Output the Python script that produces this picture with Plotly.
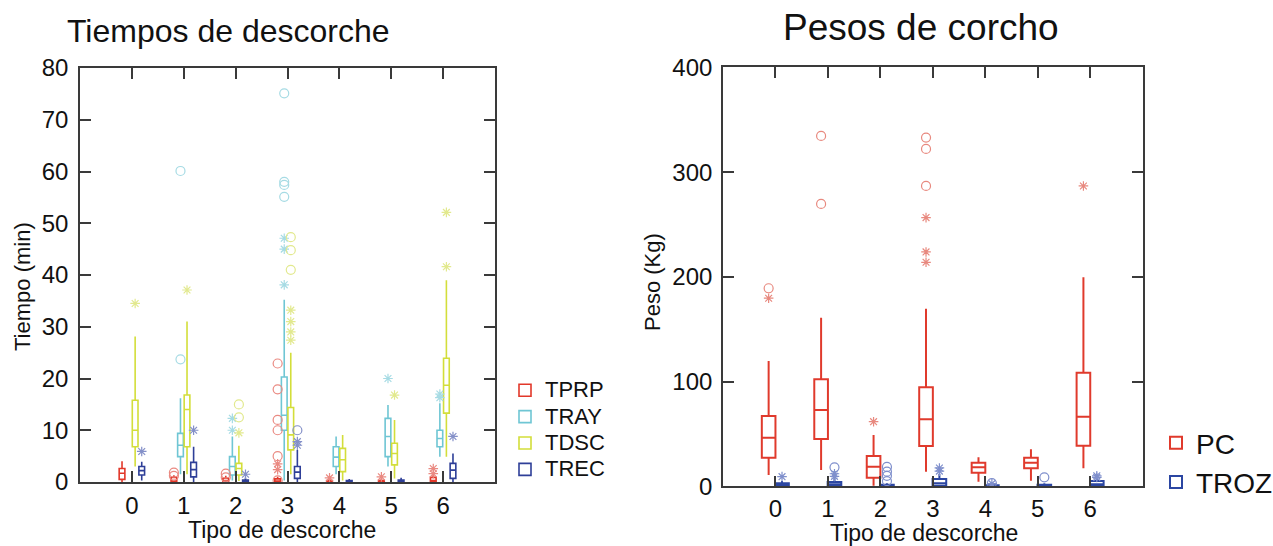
import plotly.graph_objects as go

# ---------------- data: Tiempos de descorche ----------------
groups = [0, 1, 2, 3, 4, 5, 6]
tick_labels = ["0", "1", "2", "3", "4", "5", "6"]

TPRP_groups = [0, 1, 2, 3, 4, 5, 6]
TPRP_q1 = [0.5, 0.0, 0.0, 0.0, 0.0, 0.0, 0.0]
TPRP_med = [1.7, 0.3, 0.2, 0.1, 0.1, 0.1, 0.3]
TPRP_q3 = [2.6, 0.9, 0.7, 0.6, 0.3, 0.3, 0.9]
TPRP_lo = [0.0, 0.0, 0.0, 0.0, 0.0, 0.0, 0.0]
TPRP_hi = [4.0, 1.3, 1.2, 1.0, 0.6, 0.6, 1.5]
TPRP_circ = {1: [1.8, 1.2], 2: [1.6, 0.9], 3: [22.9, 17.9, 12.0, 10.0, 5.0, 0.3]}
TPRP_ast = {3: [3.5, 2.4], 4: [0.8], 5: [1.0], 6: [2.6, 1.6]}

TRAY_groups = [1, 2, 3, 4, 5, 6]
TRAY_q1 = [4.9, 1.35, 10.0, 3.0, 4.9, 6.8]
TRAY_med = [7.1, 3.0, 12.9, 4.8, 8.8, 8.4]
TRAY_q3 = [9.4, 4.9, 20.3, 6.8, 12.3, 10.0]
TRAY_lo = [1.5, 0.3, 0.3, 1.5, 3.0, 4.9]
TRAY_hi = [16.2, 8.8, 35.2, 8.8, 14.9, 15.2]
TRAY_circ = {1: [60.1, 23.7], 3: [75.1, 58.0, 57.4, 55.1]}
TRAY_ast = {2: [12.3, 10.0], 3: [47.1, 45.0, 38.1], 5: [20.0], 6: [17.0, 16.3]}

TDSC_groups = [0, 1, 2, 3, 4, 5, 6]
TDSC_q1 = [6.8, 6.8, 1.35, 6.2, 2.0, 3.3, 13.3]
TDSC_med = [10.0, 14.0, 2.6, 9.1, 4.3, 5.5, 18.7]
TDSC_q3 = [15.8, 16.8, 3.6, 14.4, 6.5, 7.5, 23.9]
TDSC_lo = [3.0, 1.5, 0.2, 1.5, 0.3, 0.7, 4.9]
TDSC_hi = [28.1, 31.0, 7.0, 25.0, 9.1, 12.0, 39.0]
TDSC_circ = {2: [15.0, 12.5], 3: [47.3, 44.8, 41.0]}
TDSC_ast = {0: [34.5], 1: [37.1], 2: [9.5], 3: [33.2, 31.0, 29.0, 27.4], 5: [16.8], 6: [52.1, 41.6]}

TREC_groups = [0, 1, 2, 3, 4, 5, 6]
TREC_q1 = [1.35, 1.0, 0.0, 0.7, 0.0, 0.0, 0.7]
TREC_med = [2.2, 2.4, 0.1, 1.9, 0.1, 0.1, 2.3]
TREC_q3 = [3.0, 3.8, 0.4, 3.0, 0.3, 0.4, 3.6]
TREC_lo = [0.3, 0.0, 0.0, 0.0, 0.0, 0.0, 0.0]
TREC_hi = [3.9, 6.8, 0.8, 6.2, 0.6, 0.8, 5.5]
TREC_circ = {3: [10.0]}
TREC_ast = {0: [5.9], 1: [10.0], 2: [1.5], 3: [7.8, 7.1], 6: [8.8]}

# ---------------- data: Pesos de corcho ----------------
PC_groups = [0, 1, 2, 3, 4, 5, 6]
PC_q1 = [27.3, 45.2, 8.2, 38.5, 13.0, 17.2, 38.8]
PC_med = [46.4, 72.9, 18.7, 64.0, 18.1, 22.6, 66.5]
PC_q3 = [67.1, 102.2, 28.9, 94.6, 22.6, 27.3, 108.5]
PC_lo = [10.8, 15.6, 0.5, 14.0, 4.4, 5.3, 17.2]
PC_hi = [119.7, 161.0, 49.0, 169.6, 27.7, 35.3, 199.6]
PC_circ = {0: [189.1], 1: [334.6, 269.6], 3: [333.0, 322.2, 286.8]}
PC_ast = {0: [179.6], 2: [61.7], 3: [256.6, 223.8, 213.9], 6: [286.8]}

TROZ_groups = [0, 1, 2, 3, 4, 5, 6]
TROZ_q1 = [0.0, 0.0, 0.0, 0.5, 0.0, 0.0, 0.0]
TROZ_med = [1.5, 2.0, 0.5, 3.0, 0.3, 0.5, 2.0]
TROZ_q3 = [3.0, 4.0, 1.5, 7.0, 1.0, 1.5, 5.0]
TROZ_lo = [0.0, 0.0, 0.0, 0.0, 0.0, 0.0, 0.0]
TROZ_hi = [5.0, 8.0, 3.0, 12.0, 2.0, 3.0, 8.0]
TROZ_circ = {1: [18.1], 2: [18.5, 14.0, 10.0, 5.0], 4: [3.0], 5: [8.6]}
TROZ_ast = {0: [9.2], 1: [12.0, 9.5], 3: [17.5, 14.5], 4: [2.5], 6: [10.0, 8.5]}

FONT = "Arial, Liberation Sans, sans-serif"

fig = go.Figure()


def add_series(name, grp, q1, med, q3, lo, hi, circ, ast, off, width, color, ocolor,
               xa, ya, legend, lw, label_size):
    xs = [g + off for g in grp]
    fig.add_trace(go.Box(
        name=f'<span style="font-size:{label_size}px">{name}</span>',
        x=xs, q1=q1, median=med, q3=q3, lowerfence=lo, upperfence=hi,
        width=width, whiskerwidth=0, line=dict(color=color, width=lw),
        fillcolor="rgba(255,255,255,0)", boxpoints=False, xaxis=xa, yaxis=ya,
        legend=legend, hoverinfo="skip"))
    cx, cy = [], []
    for g, vals in circ.items():
        for v in vals:
            cx.append(g + off)
            cy.append(v)
    ax_, ay_ = [], []
    for g, vals in ast.items():
        for v in vals:
            ax_.append(g + off)
            ay_.append(v)
    fig.add_trace(go.Scatter(x=cx, y=cy, mode="markers", showlegend=False,
                             marker=dict(symbol="circle-open", size=9, color=ocolor,
                                         line=dict(width=1.2, color=ocolor)),
                             xaxis=xa, yaxis=ya, hoverinfo="skip"))
    fig.add_trace(go.Scatter(x=ax_, y=ay_, mode="markers", showlegend=False,
                             marker=dict(symbol="asterisk-open", size=8, color=ocolor,
                                         line=dict(width=1.2, color=ocolor)),
                             xaxis=xa, yaxis=ya, hoverinfo="skip"))


W1 = 0.11
add_series("TPRP", TPRP_groups, TPRP_q1, TPRP_med, TPRP_q3, TPRP_lo, TPRP_hi, TPRP_circ, TPRP_ast,
           -0.19, W1, "#e2382a", "#ea8a82", "x", "y", "legend", 1.6, 22)
add_series("TRAY", TRAY_groups, TRAY_q1, TRAY_med, TRAY_q3, TRAY_lo, TRAY_hi, TRAY_circ, TRAY_ast,
           -0.063, W1, "#6fc6d4", "#a6dbe4", "x", "y", "legend", 1.6, 22)
add_series("TDSC", TDSC_groups, TDSC_q1, TDSC_med, TDSC_q3, TDSC_lo, TDSC_hi, TDSC_circ, TDSC_ast,
           0.063, W1, "#d3de3a", "#e2e98e", "x", "y", "legend", 1.6, 22)
add_series("TREC", TREC_groups, TREC_q1, TREC_med, TREC_q3, TREC_lo, TREC_hi, TREC_circ, TREC_ast,
           0.19, W1, "#2e3f98", "#8490c8", "x", "y", "legend", 1.6, 22)

W2 = 0.26
add_series("PC", PC_groups, PC_q1, PC_med, PC_q3, PC_lo, PC_hi, PC_circ, PC_ast,
           -0.13, W2, "#e03a2c", "#e8897f", "x2", "y2", "legend2", 2.0, 28)
add_series("TROZ", TROZ_groups, TROZ_q1, TROZ_med, TROZ_q3, TROZ_lo, TROZ_hi, TROZ_circ, TROZ_ast,
           0.125, W2, "#2b46a2", "#7f8fcc", "x2", "y2", "legend2", 2.0, 28)

axis_common = dict(showline=True, linecolor="#3a3a3a", linewidth=1.6, mirror="ticks",
                   ticks="inside", ticklen=11, tickwidth=1.6, tickcolor="#3a3a3a",
                   showgrid=False, zeroline=False, automargin=False,
                   tickfont=dict(family=FONT, size=24, color="#111111"))

W, H = 1273, 546
fig.update_layout(
    width=W, height=H, margin=dict(l=0, r=0, t=0, b=0, autoexpand=False),
    paper_bgcolor="white", plot_bgcolor="white", boxmode="overlay",
    font=dict(family=FONT, color="#111111"),
    xaxis=dict(domain=[80 / W, 495 / W], range=[-1, 7], tickvals=groups, ticktext=tick_labels,
               anchor="y", ticklabelstandoff=1, **axis_common),
    yaxis=dict(domain=[(H - 482) / H, (H - 68) / H], range=[0, 80], dtick=10,
               anchor="x", ticklabelstandoff=5, **axis_common),
    xaxis2=dict(domain=[723 / W, 1142.7 / W], range=[-1, 7], tickvals=groups, ticktext=tick_labels,
                anchor="y2", ticklabelstandoff=0, **axis_common),
    yaxis2=dict(domain=[(H - 486.3) / H, (H - 67.4) / H], range=[0, 400], dtick=100,
                anchor="x2", ticklabelstandoff=4, **axis_common),
    legend=dict(x=505 / W, y=1 - 372 / H, xanchor="left", yanchor="top",
                font=dict(family=FONT, size=18, color="#111111"),
                bgcolor="rgba(0,0,0,0)", tracegroupgap=0, itemwidth=30),
    legend2=dict(x=1156 / W, y=1 - 418 / H, xanchor="left", yanchor="top",
                 font=dict(family=FONT, size=28, color="#111111"),
                 bgcolor="rgba(0,0,0,0)", tracegroupgap=0, itemwidth=30),
    showlegend=True,
    annotations=[
        dict(text="Tiempos de descorche", x=228 / W, y=1 - 31 / H, xref="paper", yref="paper",
             xanchor="center", yanchor="middle", showarrow=False,
             font=dict(family=FONT, size=32, color="#111111")),
        dict(text="Pesos de corcho", x=921 / W, y=1 - 27 / H, xref="paper", yref="paper",
             xanchor="center", yanchor="middle", showarrow=False,
             font=dict(family=FONT, size=37, color="#111111")),
        dict(text="Tipo de descorche", x=282 / W, y=1 - 530 / H, xref="paper", yref="paper",
             xanchor="center", yanchor="middle", showarrow=False,
             font=dict(family=FONT, size=23, color="#111111")),
        dict(text="Tipo de descorche", x=924 / W, y=1 - 533 / H, xref="paper", yref="paper",
             xanchor="center", yanchor="middle", showarrow=False,
             font=dict(family=FONT, size=23, color="#111111")),
        dict(text="Tiempo (min)", x=22 / W, y=1 - 287 / H, xref="paper", yref="paper",
             xanchor="center", yanchor="middle", showarrow=False, textangle=-90,
             font=dict(family=FONT, size=22, color="#111111")),
        dict(text="Peso (Kg)", x=652 / W, y=1 - 282 / H, xref="paper", yref="paper",
             xanchor="center", yanchor="middle", showarrow=False, textangle=-90,
             font=dict(family=FONT, size=22, color="#111111")),
    ],
)

fig.write_html("out.html")
